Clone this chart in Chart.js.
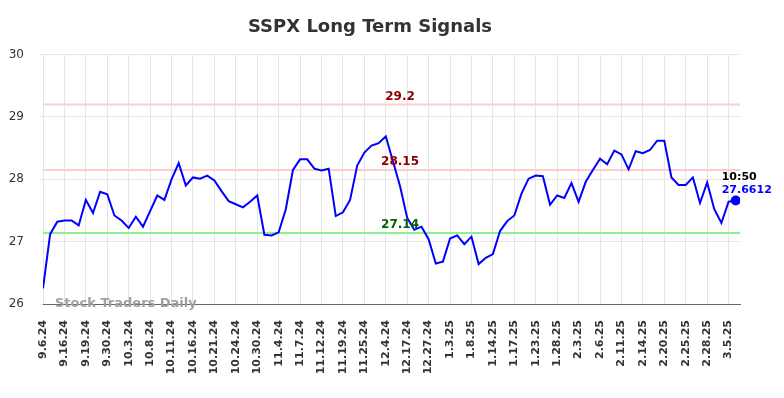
<!DOCTYPE html>
<html>
<head>
<meta charset="utf-8">
<title>SSPX Long Term Signals</title>
<script src="https://cdn.jsdelivr.net/npm/chart.js@4/dist/chart.umd.min.js"></script>
<style>
  body { margin: 0; background: #fff; }
</style>
</head>
<body>
<canvas id="signals-chart" width="784" height="398"></canvas>
<script>
/* Chart data */
let chartTitle = 'SSPX Long Term Signals'
let tickLabels = [ '9.6.24', '9.16.24', '9.19.24', '9.30.24', '10.3.24', '10.8.24', '10.11.24', '10.16.24',
    '10.21.24', '10.24.24', '10.30.24', '11.4.24', '11.7.24', '11.12.24', '11.19.24', '11.25.24', '12.4.24',
    '12.17.24', '12.27.24', '1.3.25', '1.8.25', '1.14.25', '1.17.25', '1.23.25', '1.28.25', '2.3.25',
    '2.6.25', '2.11.25', '2.14.25', '2.20.25', '2.25.25', '2.28.25', '3.5.25' ]
let closeValues = [ 26.25, 27.12, 27.32, 27.34, 27.34, 27.26, 27.67, 27.46, 27.80, 27.76,
    27.42, 27.34, 27.22, 27.40, 27.24, 27.49, 27.74, 27.67, 28.00, 28.26,
    27.90, 28.03, 28.01, 28.06, 27.98, 27.81, 27.65, 27.60, 27.55, 27.64,
    27.74, 27.11, 27.10, 27.15, 27.52, 28.15, 28.32, 28.32, 28.17, 28.14,
    28.17, 27.41, 27.47, 27.67, 28.22, 28.43, 28.54, 28.58, 28.69, 28.29,
    27.89, 27.38, 27.19, 27.24, 27.04, 26.65, 26.68, 27.05, 27.10, 26.96,
    27.08, 26.64, 26.74, 26.80, 27.17, 27.33, 27.42, 27.77, 28.01, 28.06,
    28.05, 27.59, 27.74, 27.70, 27.94, 27.64, 27.96, 28.15, 28.33, 28.24,
    28.46, 28.40, 28.16, 28.45, 28.42, 28.47, 28.62, 28.62, 28.03, 27.91,
    27.91, 28.03, 27.62, 27.95, 27.52, 27.30, 27.64, 27.6612 ]
let signalLevels = [ 29.2, 28.15, 27.14 ]
let lastTime = '10:50'
let lastValueText = '27.6612'
let watermarkText = 'Stock Traders Daily'

// one tick label for every 3 trading days
let pointsPerTick = 3

let lastIndex = closeValues.length - 1
let points = closeValues.map(function(value, index) {
    return { x: index, y: value }
})

let signalLineColors = [ '#ffcccc', '#ffcccc', '#90ee90' ]
let signalTextColors = [ '#8b0000', '#8b0000', '#006400' ]

// draws the signal lines, their labels, watermark and the last value note
let signalsPlugin = {
    id: 'signals',
    beforeDatasetsDraw: function(chart) {
        let ctx = chart.ctx
        let area = chart.chartArea
        let yScale = chart.scales.y
        ctx.save()
        signalLevels.forEach(function(level, i) {
            let y = yScale.getPixelForValue(level)
            ctx.strokeStyle = signalLineColors[i]
            ctx.lineWidth = 2
            ctx.beginPath()
            ctx.moveTo(area.left, y)
            ctx.lineTo(area.right, y)
            ctx.stroke()
        })
        ctx.font = 'bold 13px "DejaVu Sans"'
        ctx.fillStyle = '#a0a0a0'
        ctx.textAlign = 'left'
        ctx.textBaseline = 'middle'
        ctx.fillText(watermarkText, area.left + 12, area.bottom)
        ctx.restore()
    },
    afterDatasetsDraw: function(chart) {
        let ctx = chart.ctx
        let xScale = chart.scales.x
        let yScale = chart.scales.y
        ctx.save()
        ctx.font = 'bold 12px "DejaVu Sans"'
        ctx.textAlign = 'center'
        ctx.textBaseline = 'bottom'
        let labelX = xScale.getPixelForValue(50)
        signalLevels.forEach(function(level, i) {
            ctx.fillStyle = signalTextColors[i]
            ctx.fillText(String(level), labelX, yScale.getPixelForValue(level) - 2)
        })

        let px = xScale.getPixelForValue(lastIndex)
        let py = yScale.getPixelForValue(closeValues[lastIndex])
        ctx.font = 'bold 11px "DejaVu Sans"'
        ctx.textAlign = 'left'
        ctx.textBaseline = 'alphabetic'
        ctx.fillStyle = '#000'
        ctx.fillText(lastTime, px - 14, py - 20)
        ctx.fillStyle = '#0000ff'
        ctx.fillText(lastValueText, px - 14, py - 7)
        ctx.restore()
    }
}

let chartCanvas = document.querySelector('#signals-chart')
let ctx = chartCanvas.getContext('2d')

let signalsChart = new Chart(ctx, {
    type: 'line',
    data: {
        datasets: [
            {
                data: points,
                borderColor: '#0000ff',
                backgroundColor: '#0000ff',
                borderWidth: 2,
                tension: 0,
                pointRadius: function(context) {
                    return context.dataIndex == lastIndex ? 4 : 0
                },
                pointHoverRadius: 0
            }
        ]
    },
    options: {
        responsive: false,
        animation: false,
        devicePixelRatio: 1,
        layout: {
            padding: { left: 0, right: 44, top: 0, bottom: 0 }
        },
        plugins: {
            legend: { display: false },
            tooltip: { enabled: false },
            title: {
                display: true,
                text: chartTitle,
                color: '#333',
                font: { family: 'DejaVu Sans', size: 18, weight: 'bold' },
                padding: { top: 17, bottom: 16 }
            }
        },
        scales: {
            x: {
                type: 'linear',
                min: 0,
                max: 97.6,
                afterFit: function(scale) {
                    scale.height = 94
                },
                border: { display: true, color: '#666' },
                grid: { color: '#e6e6e6', drawTicks: false },
                ticks: {
                    stepSize: pointsPerTick,
                    includeBounds: false,
                    autoSkip: false,
                    minRotation: 90,
                    maxRotation: 90,
                    padding: 16,
                    color: '#333',
                    font: { family: 'DejaVu Sans', size: 11, weight: 'bold' },
                    callback: function(value) {
                        let label = tickLabels[value / pointsPerTick]
                        return label === undefined ? '' : label
                    }
                }
            },
            y: {
                min: 26,
                max: 30,
                afterFit: function(scale) {
                    scale.width = 43
                },
                border: { display: false },
                grid: { color: '#e6e6e6', tickLength: 4 },
                ticks: {
                    stepSize: 1,
                    padding: 15,
                    color: '#333',
                    font: { family: 'DejaVu Sans', size: 12 }
                }
            }
        }
    },
    plugins: [ signalsPlugin ]
})
</script>
</body>
</html>
